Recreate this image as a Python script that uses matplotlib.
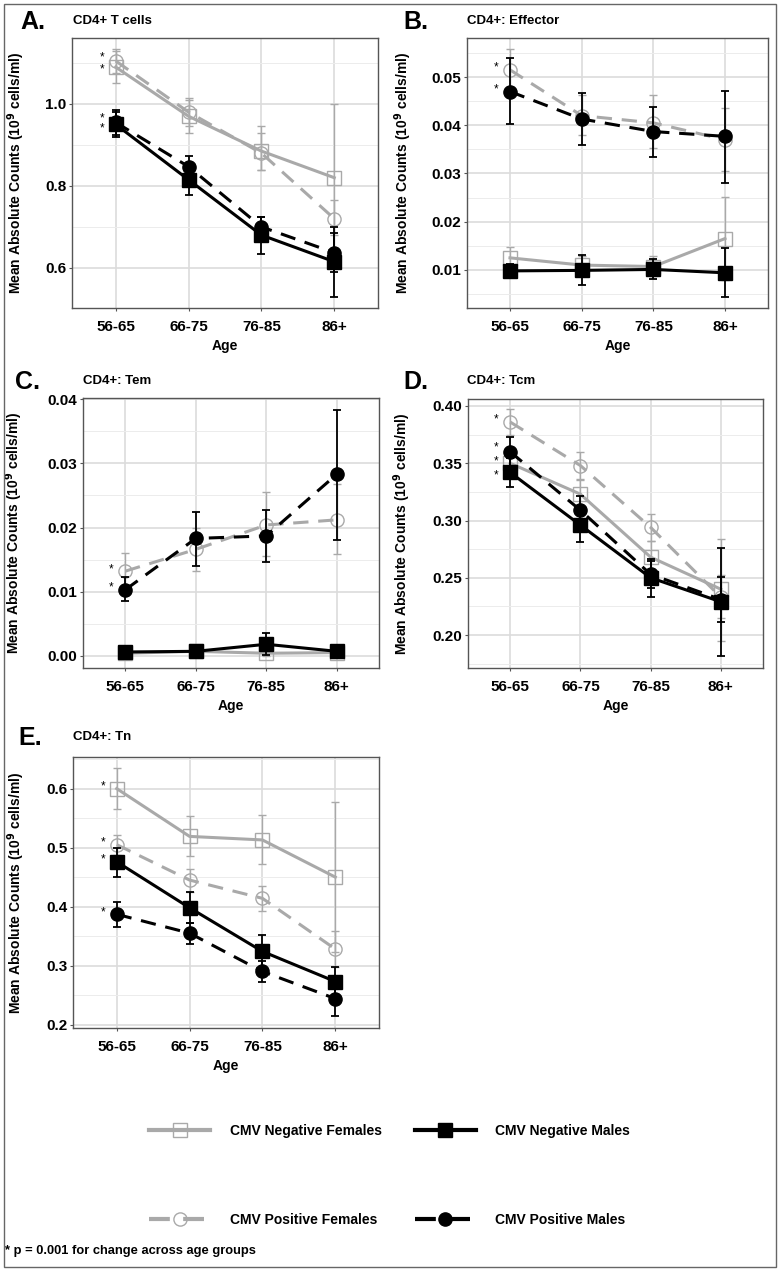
import matplotlib.pyplot as plt
from matplotlib.lines import Line2D
from matplotlib.patches import Rectangle
from matplotlib.ticker import MultipleLocator, FormatStrFormatter

plt.rcParams['font.family'] = ['Liberation Sans', 'DejaVu Sans']
plt.rcParams['font.weight'] = 'bold'

ages = ['56-65', '66-75', '76-85', '86+']
series = ['CMV Negative Females', 'CMV Positive Females', 'CMV Negative Males', 'CMV Positive Males']

# series order in every list: neg females, pos females, neg males, pos males
# A. CD4+ T cells
a_mean = [[1.09, 0.97, 0.885, 0.82], [1.105, 0.98, 0.88, 0.72],
          [0.95, 0.815, 0.68, 0.615], [0.955, 0.847, 0.70, 0.637]]
a_lo = [[1.05, 0.93, 0.84, 0.64], [1.075, 0.945, 0.84, 0.68],
        [0.92, 0.778, 0.635, 0.53], [0.925, 0.818, 0.675, 0.59]]
a_hi = [[1.13, 1.01, 0.93, 1.00], [1.135, 1.015, 0.945, 0.765],
        [0.98, 0.852, 0.725, 0.70], [0.985, 0.874, 0.725, 0.685]]

# B. CD4+: Effector
b_mean = [[0.0125, 0.011, 0.0107, 0.0165], [0.0515, 0.042, 0.0405, 0.037],
          [0.0098, 0.0099, 0.0101, 0.0094], [0.047, 0.0413, 0.0387, 0.0377]]
b_lo = [[0.0105, 0.009, 0.0088, 0.0080], [0.047, 0.038, 0.0353, 0.0305],
        [0.0085, 0.0069, 0.0082, 0.0043], [0.0403, 0.036, 0.0335, 0.028]]
b_hi = [[0.0148, 0.0128, 0.0128, 0.0252], [0.0558, 0.0462, 0.0462, 0.0436],
        [0.0112, 0.013, 0.0123, 0.0146], [0.054, 0.0466, 0.0438, 0.0472]]

# C. CD4+: Tem
c_mean = [[0.0004, 0.0007, 0.0004, 0.0005], [0.0132, 0.0166, 0.0204, 0.0212],
          [0.0006, 0.0007, 0.0018, 0.0007], [0.0103, 0.0183, 0.0187, 0.0283]]
c_lo = [[0.0, 0.0003, 0.0, 0.0002], [0.0105, 0.0132, 0.0155, 0.0158],
        [0.0002, 0.0003, 0.0002, 0.0003], [0.0085, 0.014, 0.0147, 0.0181]]
c_hi = [[0.0008, 0.0011, 0.0008, 0.0008], [0.016, 0.020, 0.0255, 0.0268],
        [0.001, 0.0011, 0.0035, 0.0011], [0.0123, 0.0225, 0.0227, 0.0384]]

# D. CD4+: Tcm
d_mean = [[0.350, 0.323, 0.268, 0.240], [0.386, 0.348, 0.294, 0.233],
          [0.342, 0.296, 0.250, 0.229], [0.360, 0.309, 0.253, 0.231]]
d_lo = [[0.338, 0.311, 0.255, 0.195], [0.375, 0.336, 0.282, 0.215],
        [0.329, 0.281, 0.233, 0.182], [0.347, 0.297, 0.241, 0.211]]
d_hi = [[0.362, 0.335, 0.282, 0.284], [0.397, 0.360, 0.306, 0.252],
        [0.355, 0.311, 0.265, 0.276], [0.373, 0.321, 0.266, 0.251]]

# E. CD4+: Tn
e_mean = [[0.600, 0.519, 0.513, 0.450], [0.505, 0.445, 0.414, 0.328],
          [0.476, 0.398, 0.324, 0.273], [0.387, 0.355, 0.290, 0.244]]
e_lo = [[0.565, 0.486, 0.472, 0.323], [0.488, 0.425, 0.393, 0.297],
        [0.451, 0.372, 0.297, 0.250], [0.366, 0.337, 0.273, 0.215]]
e_hi = [[0.635, 0.553, 0.555, 0.577], [0.522, 0.464, 0.435, 0.358],
        [0.500, 0.424, 0.352, 0.297], [0.408, 0.373, 0.308, 0.270]]

GRAY = '#a9a9a9'
styles = [
    dict(color=GRAY, ls='-', marker='s', mfc='none', mec=GRAY, ms=10, mew=1.0, elw=1.0),
    dict(color=GRAY, ls=(0, (5, 3.2)), marker='o', mfc='none', mec=GRAY, ms=9.5, mew=1.0, elw=1.0),
    dict(color='black', ls='-', marker='s', mfc='black', mec='black', ms=10, mew=1.0, elw=1.3),
    dict(color='black', ls=(0, (5, 3.2)), marker='o', mfc='black', mec='black', ms=9.5, mew=1.0, elw=1.3),
]

W, H = 780, 1271
fig = plt.figure(figsize=(W / 100, H / 100), dpi=100)


def add_ax(l, t, r, b):
    return fig.add_axes([l / W, 1 - b / H, (r - l) / W, (b - t) / H])


def draw_panel(ax, mean, lo, hi, ylim, major, fmt, stars, ylab_x, ax_left, ax_w):
    x = list(range(1, len(ages) + 1))
    for k, st in enumerate(styles):
        yerr = [[m - l for m, l in zip(mean[k], lo[k])], [h - m for m, h in zip(mean[k], hi[k])]]
        ax.errorbar(x, mean[k], yerr=yerr, fmt='none', ecolor=st['color'], elinewidth=st['elw'],
                    capsize=3, capthick=st['elw'], zorder=2 + k)
        ax.plot(x, mean[k], color=st['color'], ls=st['ls'], lw=2.2, marker=st['marker'],
                mfc=st['mfc'], mec=st['mec'], ms=st['ms'], mew=st['mew'], zorder=2 + k)
    # significance stars next to the first age group (stacked when close together)
    for k, dy, n, spacing in stars:
        ax.annotate('\n'.join(['*'] * n), (1, mean[k][0]), xytext=(-10, dy),
                    textcoords='offset points', ha='center', va='center', fontsize=8.5,
                    fontweight='normal', linespacing=spacing)
    ax.set_xlim(0.4, len(ages) + 0.6)
    ax.set_ylim(*ylim)
    ax.set_xticks(x)
    ax.set_xticklabels(ages)
    ax.yaxis.set_major_locator(MultipleLocator(major))
    ax.yaxis.set_minor_locator(MultipleLocator(major / 2))
    ax.yaxis.set_major_formatter(FormatStrFormatter(fmt))
    ax.grid(True, which='major', color='#dcdcdc', lw=1.2, zorder=0)
    ax.grid(True, which='minor', axis='y', color='#ececec', lw=0.7, zorder=0)
    ax.set_axisbelow(True)
    ax.tick_params(axis='both', which='major', labelsize=11, length=2.5, width=0.8,
                   color='#555555', pad=1.5)
    ax.tick_params(axis='x', pad=6)
    ax.tick_params(axis='y', which='minor', length=0)
    for s in ax.spines.values():
        s.set_color('#555555')
        s.set_linewidth(1.0)
    ax.set_xlabel('Age', fontsize=10, fontweight='bold', labelpad=4)
    ax.set_ylabel('Mean Absolute Counts (10$^{9}$ cells/ml)', fontsize=10, fontweight='bold')
    ax.yaxis.set_label_coords((ylab_x - ax_left) / ax_w, 0.5)


ax_a = add_ax(72, 38, 378, 308)
draw_panel(ax_a, a_mean, a_lo, a_hi, (0.502, 1.161), 0.2, '%.1f',
           [(1, -2.0, 2, 1.0), (3, -0.7, 2, 0.8)], 27, 72, 306)
ax_b = add_ax(467, 38, 768, 308)
draw_panel(ax_b, b_mean, b_lo, b_hi, (0.0021, 0.0581), 0.01, '%.2f',
           [(1, 1.5, 1, 1.0), (3, 1.5, 1, 1.0)], 414, 467, 301)
ax_c = add_ax(83, 398, 379, 668)
draw_panel(ax_c, c_mean, c_lo, c_hi, (-0.0019, 0.0402), 0.01, '%.2f',
           [(1, 1.5, 1, 1.0), (3, 1.5, 1, 1.0)], 25, 83, 296)
ax_d = add_ax(468, 399, 763, 668)
draw_panel(ax_d, d_mean, d_lo, d_hi, (0.1712, 0.4061), 0.05, '%.2f',
           [(1, 1.5, 1, 1.0), (3, 3.0, 1, 1.0), (0, 1.5, 1, 1.0), (2, -2, 1, 1.0)], 413, 468, 295)
ax_e = add_ax(73, 757, 379, 1028)
draw_panel(ax_e, e_mean, e_lo, e_hi, (0.1942, 0.6536), 0.1, '%.1f',
           [(0, 1.5, 1, 1.0), (1, 1.5, 1, 1.0), (2, 1.5, 1, 1.0), (3, 1.5, 1, 1.0)], 27, 73, 306)

panel_text = [('A.', 'CD4+ T cells', 20, 73, 21),
              ('B.', 'CD4+: Effector', 403, 467, 21),
              ('C.', 'CD4+: Tem', 15, 83, 381),
              ('D.', 'CD4+: Tcm', 403, 467, 381),
              ('E.', 'CD4+: Tn', 18, 73, 737)]
for letter, title, lx, tx, ty in panel_text:
    fig.text(lx / W, 1 - (ty + 1) / H, letter, fontsize=18, fontweight='bold', va='center', ha='left')
    fig.text(tx / W, 1 - ty / H, title, fontsize=9.5, fontweight='bold', va='center', ha='left')

handles = []
for st in styles:
    handles.append(Line2D([], [], color=st['color'], ls=st['ls'], lw=3, marker=st['marker'],
                          mfc=st['mfc'], mec=st['mec'], ms=st['ms'], mew=st['mew']))
fig.legend(handles, series, loc='upper left', bbox_to_anchor=(149 / W, 1 - 1124 / H), ncol=2,
           frameon=False, borderpad=0, borderaxespad=0, handlelength=4.4,
           handletextpad=1.4, columnspacing=2.4, labelspacing=5.4,
           prop=dict(weight='bold', size=10))

fig.text(5 / W, 1 - 1251 / H, '* p = 0.001 for change across age groups', fontsize=9.3,
         fontweight='bold', va='center', ha='left')

fig.patches.append(Rectangle((4 / W, 4 / H), 772 / W, 1263 / H, transform=fig.transFigure,
                             fill=False, ec='#666666', lw=1.0))

fig.savefig('out.png', dpi=100)
